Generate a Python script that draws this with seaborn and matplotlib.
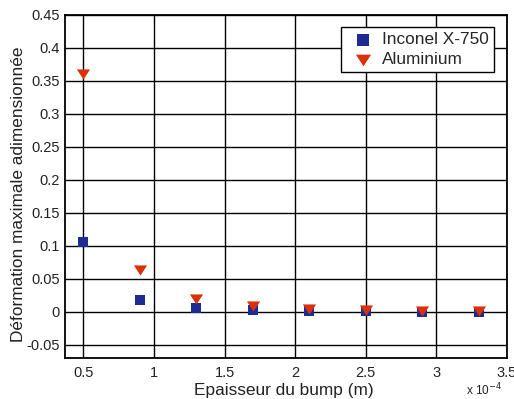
import matplotlib
matplotlib.use("Agg")
import matplotlib.pyplot as plt
import seaborn as sns

# Bump thickness (m) and maximal non-dimensional deformation per material
thickness = [0.5e-4, 0.9e-4, 1.3e-4, 1.7e-4, 2.1e-4, 2.5e-4, 2.9e-4, 3.3e-4]
inconel = [0.105, 0.018, 0.005, 0.003, 0.001, 0.0005, 0.0003, 0.0002]
aluminium = [0.360, 0.063, 0.020, 0.008, 0.004, 0.002, 0.001, 0.0007]
materials = ["Inconel X-750", "Aluminium"]

x_ticks = [0.5e-4, 1e-4, 1.5e-4, 2e-4, 2.5e-4, 3e-4, 3.5e-4]
x_tick_labels = ["0.5", "1", "1.5", "2", "2.5", "3", "3.5"]
y_ticks = [-0.05, 0, 0.05, 0.1, 0.15, 0.2, 0.25, 0.3, 0.35, 0.4, 0.45]
y_tick_labels = ["-0.05", "0", "0.05", "0.1", "0.15", "0.2", "0.25", "0.3", "0.35", "0.4", "0.45"]

sns.set_style("white")
plt.rcParams["font.family"] = ["Liberation Sans", "DejaVu Sans"]

W, H = 514, 399
fig = plt.figure(figsize=(W / 100, H / 100), dpi=100)
L, R, T, B = 64.5, 507, 14.5, 358
ax = fig.add_axes([L / W, 1 - B / H, (R - L) / W, (B - T) / H])

# wide, flat downward triangle
tri_down = [(-1, 0.77), (1, 0.77), (0, -0.77)]

sns.scatterplot(x=thickness, y=inconel, marker="s", color="#1c2c94", s=55,
                linewidth=0, ax=ax, zorder=3, label=materials[0])
sns.scatterplot(x=thickness, y=aluminium, marker=tri_down, color="#dc3008", s=90,
                linewidth=0, ax=ax, zorder=4, label=materials[1])

ax.set_xlim(0.366e-4, 3.5e-4)
ax.set_ylim(-0.07, 0.45)
ax.set_xticks(x_ticks)
ax.set_xticklabels(x_tick_labels)
ax.set_yticks(y_ticks)
ax.set_yticklabels(y_tick_labels)

ax.grid(True, color="black", linewidth=1.0)
ax.set_axisbelow(True)
for sp in ax.spines.values():
    sp.set_color("black")
    sp.set_linewidth(1.3)
ax.tick_params(axis="y", labelsize=10.5, colors="#222222", length=0, pad=3.5)
ax.tick_params(axis="x", labelsize=10.5, colors="#222222", length=0, pad=6)

ax.set_xlabel("")
ax.set_ylabel("")
fig.text(284 / W, 1 - 395 / H, "Epaisseur du bump (m)", ha="center", va="baseline",
         fontsize=12.4, color="#222222")
fig.text(19 / W, 1 - 194 / H, "Déformation maximale adimensionnée", rotation=90,
         ha="center", va="center", fontsize=12.4, color="#222222")
fig.text(502 / W, 1 - 395 / H, r"x 10$^{-4}$", ha="right", va="baseline",
         fontsize=8.5, color="#222222")

leg = ax.legend(loc="upper right", bbox_to_anchor=((494 - L) / (R - L), (B - 27) / (B - T)),
                borderaxespad=0, fontsize=12.4, frameon=True, fancybox=False,
                borderpad=0.3, handlelength=1.86, handletextpad=0.2,
                labelspacing=0.28, markerscale=1.15)
leg.get_frame().set_edgecolor("black")
leg.get_frame().set_linewidth(1.0)
leg.get_frame().set_alpha(1)

fig.savefig("out.png", dpi=100)
